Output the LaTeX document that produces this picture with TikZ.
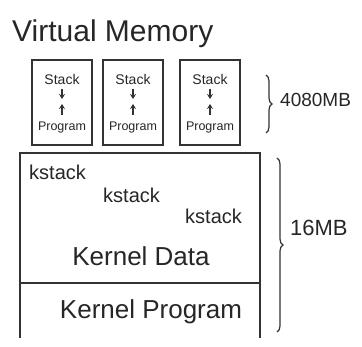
\documentclass[tikz,border=0pt]{standalone}
\usepackage{fontspec}
\setmainfont{Liberation Sans}
\usetikzlibrary{decorations.pathreplacing,arrows.meta}
\begin{document}
\begin{tikzpicture}[x=1pt,y=-1pt,
  ink/.style={draw=black!80,line width=1.2pt},
  smallbox/.style={ink,minimum width=60pt,minimum height=85pt,inner sep=0pt},
  boxtext/.style={font=\fontsize{14}{14}\selectfont,inner sep=0pt,text=black!85},
  ktext/.style={font=\fontsize{20}{20}\selectfont,inner sep=0pt,text=black!85},
  bigtext/.style={font=\fontsize{26}{26}\selectfont,inner sep=0pt,text=black!85},
  sidetext/.style={font=\fontsize{19}{19}\selectfont,inner sep=0pt,text=black!85,anchor=west},
  arr/.style={ink,line width=1.1pt,-{Stealth[length=5pt,width=6pt]}},
  brace/.style={ink,decorate,decoration={brace,amplitude=6pt}}]
\useasboundingbox (0,0) rectangle (362,347);
% title
\node[font=\fontsize{30}{30}\selectfont,inner sep=0pt,anchor=west,text=black!85] (title) at (12,34) {Virtual Memory};
% small boxes
\foreach \i/\x in {1/62,2/133,3/210}{
  \node[smallbox] (b\i) at (\x,102.5) {};
  \node[boxtext] (s\i) at (\x,80) {Stack};
  \node[boxtext,font=\fontsize{12.5}{12.5}\selectfont] (p\i) at (\x,128) {Program};
  \coordinate (d\i a) at (\x,89);
  \coordinate (d\i b) at (\x,99);
  \coordinate (u\i a) at (\x,115);
  \coordinate (u\i b) at (\x,104);
  \draw[arr] (d\i a) -- (d\i b);
  \draw[arr] (u\i a) -- (u\i b);
}
% top brace
\coordinate (tb1) at (266,75);
\coordinate (tb2) at (266,133);
\draw[brace] (tb1) -- (tb2);
\node[sidetext] (size1) at (280,100) {4080MB};
% big box
\coordinate (k1) at (20,338);
\coordinate (k2) at (20,153);
\coordinate (k3) at (260,153);
\coordinate (k4) at (260,338);
\coordinate (m1) at (20,283);
\coordinate (m2) at (260,283);
\draw[ink] (k1) -- (k2) -- (k3) -- (k4);
\draw[ink] (m1) -- (m2);
\node[ktext,anchor=west] (ks1) at (29,172) {kstack};
\node[ktext,anchor=west] (ks2) at (103,195) {kstack};
\node[ktext,anchor=west] (ks3) at (185,216) {kstack};
\node[bigtext] (kd) at (141,256) {Kernel Data};
\node[bigtext] (kp) at (151,312) {Kernel Program};
% big brace
\coordinate (bb1) at (277,158);
\coordinate (bb2) at (277,332);
\draw[brace] (bb1) -- (bb2);
\node[sidetext,font=\fontsize{22}{22}\selectfont] (size2) at (290,228) {16MB};
\end{tikzpicture}
\end{document}
